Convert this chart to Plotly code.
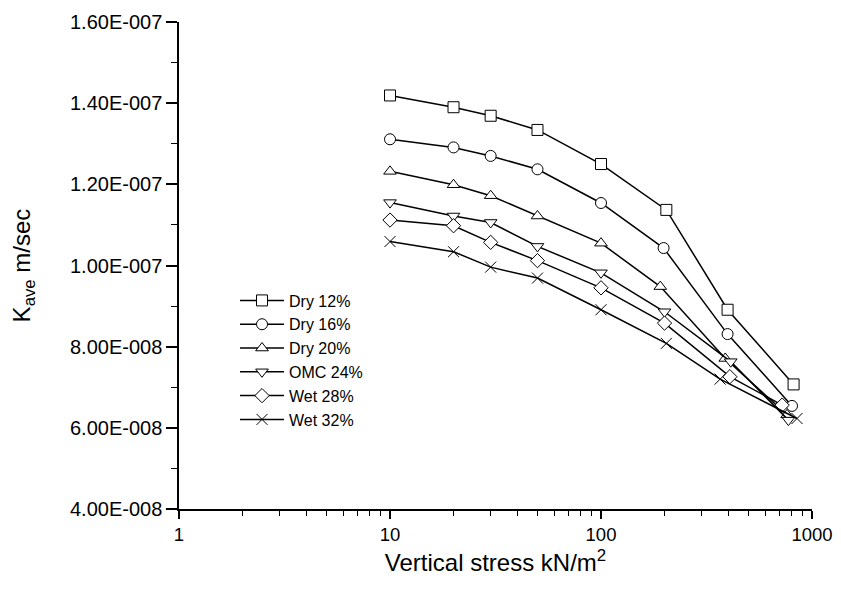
import plotly.graph_objects as go

# vertical stress (kN/m2) per series
stress_dry12 = [10, 20, 30, 50, 100, 204, 398, 818]
stress_dry16 = [10, 20, 30, 50, 100, 198, 398, 804]
stress_dry20 = [10, 20, 30, 50, 100, 191, 388, 762]
stress_omc24 = [10, 20, 30, 50, 100, 200, 412, 773]
stress_wet28 = [10, 20, 30, 50, 100, 200, 408, 722]
stress_wet32 = [10, 20, 30, 50, 100, 204, 367, 849]

# K_ave (m/sec)
k_dry12 = [1.419e-7, 1.390e-7, 1.369e-7, 1.334e-7, 1.250e-7, 1.137e-7, 0.891e-7, 0.707e-7]
k_dry16 = [1.311e-7, 1.291e-7, 1.270e-7, 1.237e-7, 1.154e-7, 1.043e-7, 0.831e-7, 0.654e-7]
k_dry20 = [1.232e-7, 1.199e-7, 1.172e-7, 1.122e-7, 1.055e-7, 0.948e-7, 0.771e-7, 0.632e-7]
k_omc24 = [1.155e-7, 1.122e-7, 1.106e-7, 1.047e-7, 0.982e-7, 0.886e-7, 0.763e-7, 0.619e-7]
k_wet28 = [1.112e-7, 1.098e-7, 1.057e-7, 1.012e-7, 0.945e-7, 0.858e-7, 0.726e-7, 0.656e-7]
k_wet32 = [1.059e-7, 1.034e-7, 0.996e-7, 0.969e-7, 0.891e-7, 0.808e-7, 0.720e-7, 0.623e-7]

series_names = ["Dry 12%", "Dry 16%", "Dry 20%", "OMC 24%", "Wet 28%", "Wet 32%"]
symbols = ["square", "circle", "triangle-up", "triangle-down", "diamond", "x-thin"]

y_tick_vals = [4e-8, 6e-8, 8e-8, 1e-7, 1.2e-7, 1.4e-7, 1.6e-7]
y_tick_text = ["4.00E-008", "6.00E-008", "8.00E-008", "1.00E-007",
               "1.20E-007", "1.40E-007", "1.60E-007"]
x_tick_vals = [1, 10, 100, 1000]
x_tick_text = ["1", "10", "100", "1000"]
x_minor_vals = [2, 3, 4, 5, 6, 7, 8, 9,
                20, 30, 40, 50, 60, 70, 80, 90,
                200, 300, 400, 500, 600, 700, 800, 900]

FONT = "Arial, Liberation Sans, sans-serif"

fig = go.Figure()

all_x = [stress_dry12, stress_dry16, stress_dry20, stress_omc24, stress_wet28, stress_wet32]
all_y = [k_dry12, k_dry16, k_dry20, k_omc24, k_wet28, k_wet32]

for name, sym, xs, ys in zip(series_names, symbols, all_x, all_y):
    fig.add_trace(go.Scatter(
        x=xs, y=ys, name=name, mode="lines+markers",
        line=dict(color="black", width=1.5),
        marker=dict(symbol=sym, size=11, color="white",
                    line=dict(color="black", width=1)),
    ))

# page body has an 8px margin, so keep the figure inside the window
fig.update_layout(
    width=825, height=574,
    margin=dict(l=171, r=21, t=14, b=73),
    plot_bgcolor="white", paper_bgcolor="white",
    font=dict(family=FONT, size=16, color="black"),
    showlegend=True,
    legend=dict(x=0.0885, y=0.463, xanchor="left", yanchor="top",
                bgcolor="rgba(0,0,0,0)", font=dict(size=16), itemwidth=44),
)

fig.update_xaxes(
    type="log", range=[0, 3], automargin=False,
    tickmode="array", tickvals=x_tick_vals, ticktext=x_tick_text,
    ticklabeloverflow="allow",
    ticks="outside", ticklen=8, tickwidth=1.5, tickcolor="black",
    minor=dict(tickmode="array", tickvals=x_minor_vals, ticks="outside",
               ticklen=5, tickwidth=1.2, tickcolor="black", showgrid=False),
    showline=True, linecolor="black", linewidth=1.5,
    showgrid=False, zeroline=False,
    tickfont=dict(size=18.5),
    title=dict(text="Vertical stress kN/m<sup>2</sup>", font=dict(size=24), standoff=10),
)

fig.update_yaxes(
    range=[4e-8, 1.6e-7], automargin=False,
    tickmode="array", tickvals=y_tick_vals, ticktext=y_tick_text,
    ticks="outside", ticklen=11, tickwidth=1.5, tickcolor="black",
    minor=dict(tickmode="linear", tick0=0, dtick=1e-8, ticks="outside",
               ticklen=6, tickwidth=1.2, tickcolor="black", showgrid=False),
    showline=True, linecolor="black", linewidth=1.5,
    showgrid=False, zeroline=False,
    tickfont=dict(size=20),
    title=dict(text="K<sub>ave</sub> m/sec", font=dict(size=24), standoff=34),
)

fig.write_html("out.html")
